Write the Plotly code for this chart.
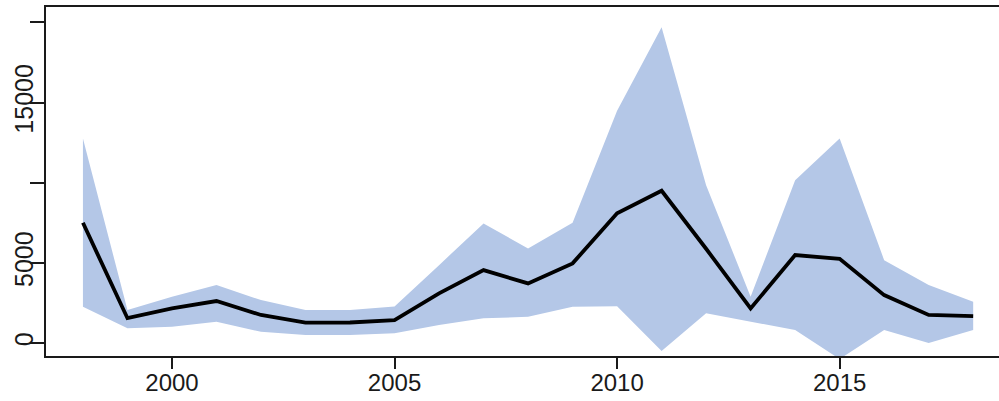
import plotly.graph_objects as go

years = list(range(1998, 2019))
mean_vals = [7500, 1550, 2160, 2620, 1750, 1270, 1280, 1430, 3100, 4550, 3720,
             4970, 8100, 9500, 5880, 2160, 5490, 5250, 2990, 1750, 1680]
upper_vals = [12760, 2060, 2890, 3620, 2680, 2060, 2060, 2280, 4860, 7460, 5900,
              7500, 14500, 19700, 9850, 2890, 10160, 12760, 5170, 3620, 2580]
lower_vals = [2260, 920, 1020, 1330, 700, 500, 500, 610, 1120, 1540, 1640,
              2260, 2300, -500, 1850, 1330, 810, -1000, 810, 0, 810]

x_tick_vals = [2000, 2005, 2010, 2015]
x_tick_text = ["2000", "2005", "2010", "2015"]
y_tick_vals = [0, 5000, 10000, 15000, 20000]
y_tick_text = ["0", "5000", "", "15000", ""]

band_color = "#b4c7e7"
ink = "#1a1a1a"

fig = go.Figure()
fig.add_trace(go.Scatter(x=years, y=lower_vals, mode="lines",
                         line=dict(width=0, color=band_color),
                         showlegend=False, hoverinfo="skip"))
fig.add_trace(go.Scatter(x=years, y=upper_vals, mode="lines",
                         line=dict(width=0, color=band_color),
                         fill="tonexty", fillcolor=band_color,
                         showlegend=False, hoverinfo="skip"))
fig.add_trace(go.Scatter(x=years, y=mean_vals, mode="lines",
                         line=dict(width=3.8, color="black"),
                         showlegend=False))

fig.update_layout(
    width=999, height=401,
    margin=dict(l=46, r=0, t=7, b=45),
    paper_bgcolor="white", plot_bgcolor="white",
    font=dict(family="Liberation Sans, Arial, sans-serif", size=24, color=ink),
)
fig.update_xaxes(
    range=[1997.17, 2018.58], tickvals=x_tick_vals, ticktext=x_tick_text,
    ticks="outside", ticklen=11, tickwidth=2, tickcolor=ink,
    ticklabelstandoff=-7,
    showline=True, linewidth=2, linecolor=ink, mirror=True, automargin=False,
    showgrid=False, zeroline=False, tickfont=dict(size=24, color=ink),
)
fig.update_yaxes(
    range=[-810, 20966], tickvals=y_tick_vals, ticktext=y_tick_text,
    ticks="outside", ticklen=14, tickwidth=2, tickcolor=ink, tickangle=-90,
    ticklabelstandoff=-13,
    showline=True, linewidth=2, linecolor=ink, automargin=False,
    showgrid=False, zeroline=False, tickfont=dict(size=25, color=ink),
)

fig.write_html(
    "out.html",
    config={"displayModeBar": False},
    post_script="document.body.style.margin='0px';document.body.style.overflow='hidden';",
)
